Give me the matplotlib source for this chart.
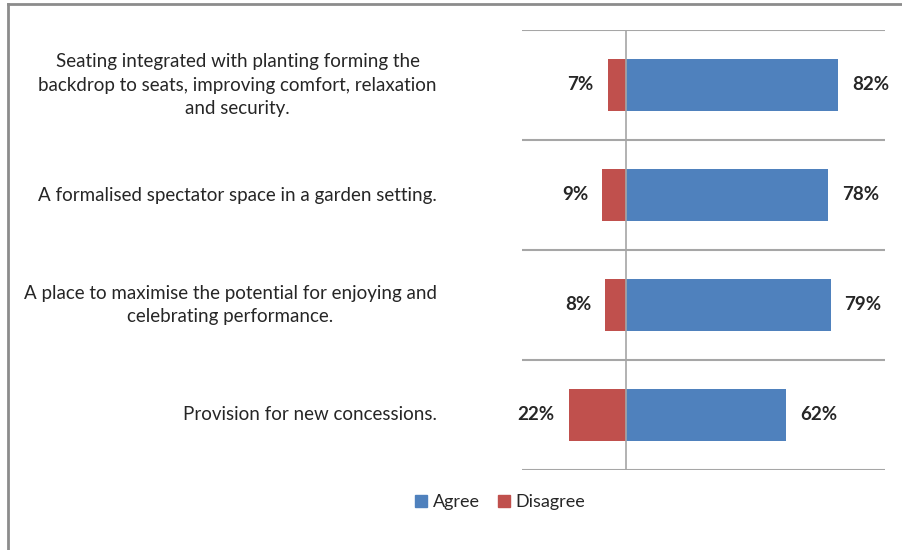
import matplotlib.pyplot as plt
from matplotlib.lines import Line2D
from matplotlib.transforms import blended_transform_factory

categories = [
    "Seating integrated with planting forming the\nbackdrop to seats, improving comfort, relaxation\nand security.",
    "A formalised spectator space in a garden setting.",
    "A place to maximise the potential for enjoying and\ncelebrating performance.",
    "Provision for new concessions.",
]
agree = [82, 78, 79, 62]
disagree = [7, 9, 8, 22]

BLUE = "#4F81BD"
RED = "#C0504D"
GRID = "#A6A6A6"
TEXT = "#262626"

plt.rcParams["font.family"] = ["Lato", "DejaVu Sans"]

fig = plt.figure(figsize=(9.02, 5.5), dpi=100)
ax = fig.add_axes([522 / 902, 1 - 470 / 550, 363 / 902, 440 / 550])

y = list(range(len(categories)))
ax.barh(y, agree, height=0.48, color=BLUE, label="Agree")
ax.barh(y, [-d for d in disagree], height=0.48, color=RED, label="Disagree")

ax.set_xlim(-40, 100)
ax.set_ylim(len(categories) - 0.5, -0.5)

# category separators and zero axis
for b in [i - 0.5 for i in range(len(categories) + 1)]:
    ax.axhline(b, color=GRID, lw=1.5, zorder=0)
ax.axvline(0, color=GRID, lw=1.2, zorder=3)

for s in ax.spines.values():
    s.set_visible(False)
ax.set_xticks([])
ax.set_yticks([])

for i in y:
    ax.annotate(f"{agree[i]}%", (agree[i], i), xytext=(10, 0), textcoords="offset points",
                ha="left", va="center", fontsize=13.5, fontweight="bold", color=TEXT)
    ax.annotate(f"{disagree[i]}%", (-disagree[i], i), xytext=(-10, 0), textcoords="offset points",
                ha="right", va="center", fontsize=13.5, fontweight="bold", color=TEXT)

tr = blended_transform_factory(fig.transFigure, ax.transData)
for i, c in enumerate(categories):
    ax.text(437 / 902, i, c, transform=tr, ha="right", va="center", multialignment="center",
            fontsize=13.5, color=TEXT, linespacing=1.45)

handles = [Line2D([], [], marker="s", ls="", color=BLUE, markersize=8),
           Line2D([], [], marker="s", ls="", color=RED, markersize=8)]
fig.legend(handles, ["Agree", "Disagree"], loc="center", bbox_to_anchor=(500 / 902, 1 - 502 / 550),
           ncol=2, frameon=False, fontsize=13, handlelength=0.7, handletextpad=0.3,
           columnspacing=1.0, labelcolor=TEXT)

# chart frame (top and left edges visible in the crop)
fig.add_artist(Line2D([8 / 902, 1], [1 - 4 / 550, 1 - 4 / 550], transform=fig.transFigure,
                      color="#8C8C8C", lw=2))
fig.add_artist(Line2D([8 / 902, 8 / 902], [0, 1 - 4 / 550], transform=fig.transFigure,
                      color="#8C8C8C", lw=2))

fig.savefig("out.png", dpi=100)
